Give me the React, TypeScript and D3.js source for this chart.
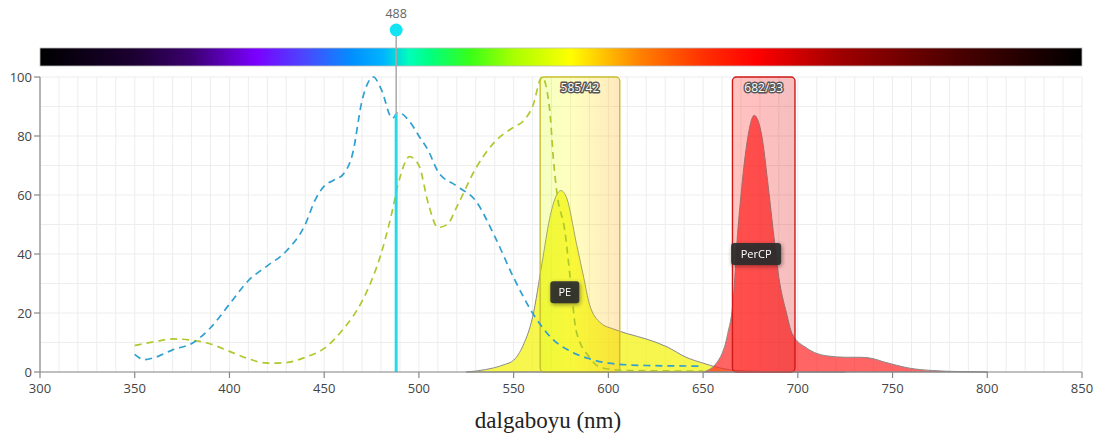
import React from "react";
import * as d3 from "d3";

// spectrum bar colour stops (wavelength nm -> colour)
const spectrumNm = [300, 350, 380, 414, 440, 465, 481, 495, 506, 527, 550, 580, 617, 650, 678, 722, 780, 850];
const spectrumColors = ["#000000", "#1c0032", "#3c0070", "#7a00ff", "#4a48ff", "#0090ff", "#00b4ff", "#00ffb8", "#00ff80", "#38ff18", "#a8ff00", "#ffff00", "#ff8000", "#ff3000", "#ff0000", "#a00000", "#500000", "#000000"];

// PerCP excitation (blue dashed)
const exPerCPnm = [350, 355, 360, 370, 381, 390, 400, 410, 420, 430, 440, 445, 450, 455, 460, 465, 470, 476, 480, 486, 489, 495, 500, 505, 510, 520, 530, 540, 550, 560, 570, 580, 590, 600, 620, 650];
const exPerCPval = [6, 4.2, 4.8, 7.5, 10, 15, 23, 31, 36, 41, 50, 58, 63, 65, 67, 74, 92, 100, 96, 86, 88, 85, 80, 75, 68, 63, 58, 46, 32, 20, 11.5, 7, 4.5, 3, 2.2, 2];

// PE excitation (green dashed)
const exPEnm = [350, 360, 370, 380, 390, 400, 410, 420, 430, 440, 450, 460, 470, 475, 480, 485, 490, 495, 500, 505, 510, 515, 520, 530, 540, 550, 555, 560, 565, 569, 571, 573, 577, 580, 583, 590, 596, 610, 650];
const exPEval = [9, 10.2, 11.2, 10.8, 9.5, 7, 4.5, 3, 3.2, 5, 8, 14.5, 24, 31, 40, 52, 66, 73, 70, 57, 49, 50, 56, 69, 78, 83, 85, 90, 100, 89, 72, 60, 48, 31, 14, 5, 1.5, 0.5, 0.3];

// PE emission (yellow area)
const emPEnm = [525, 535, 545, 550, 555, 560, 565, 569, 572, 575, 578, 583, 587, 590, 596, 603, 610, 621, 631, 641, 650, 660, 670, 690, 725];
const emPEval = [0, 0.8, 2.5, 4, 9, 18.6, 37, 52, 59, 61.5, 59, 44, 32, 23, 16.6, 14.5, 13, 11, 8.5, 5, 3, 1.2, 0.4, 0.1, 0];

// PerCP emission (red area)
const emPerCPnm = [650, 657, 663, 666, 668, 670, 673, 677, 681, 684, 687, 690, 694, 697, 705, 715, 725, 733, 740, 745, 752, 759, 771, 785, 800];
const emPerCPval = [0, 3, 13, 25, 45, 60, 77, 87, 80, 65, 48, 32, 20, 13, 8, 5.5, 5, 5, 4.5, 3.5, 2.3, 1.3, 0.5, 0.15, 0];

// filters
const filterNames = ["585/42", "682/33"];
const filterCenters = [585, 682];
const filterWidths = [42, 33];
const filterStrokes = ["#c9bf2c", "#d01818"];

// fluorochrome tags
const dyeNames = ["PE", "PerCP"];
const dyePeakNm = [577, 678];
const dyeTagVal = [27, 40];

const laserNm = 488;
const xTicks = [300, 350, 400, 450, 500, 550, 600, 650, 700, 750, 800, 850];
const yTicks = [0, 20, 40, 60, 80, 100];

const W = 1095;
const H = 437;
const left = 40;
const right = 1082;
const top = 77;
const bottom = 372;

export default function App() {
  const x = d3.scaleLinear().domain([300, 850]).range([left, right]);
  const y = d3.scaleLinear().domain([0, 100]).range([bottom, top]);

  const line = d3
    .line<[number, number]>()
    .x((d) => x(d[0]))
    .y((d) => y(d[1]))
    .curve(d3.curveMonotoneX);
  const area = d3
    .area<[number, number]>()
    .x((d) => x(d[0]))
    .y0(y(0))
    .y1((d) => y(d[1]))
    .curve(d3.curveMonotoneX);

  const zip = (a: number[], b: number[]) => a.map((v, i) => [v, b[i]] as [number, number]);

  const vGrid = d3.range(300, 851, 10);
  const hGrid = d3.range(0, 101, 10);
  const font = "'Open Sans', 'Noto Sans', sans-serif";

  const laserVal = d3.scaleLinear().domain(exPerCPnm).range(exPerCPval)(laserNm);

  return (
    <svg width={W} height={H} style={{ position: "absolute", left: 0, top: 0 }} fontFamily={font}>
      <defs>
        <linearGradient id="spec" gradientUnits="userSpaceOnUse" x1={left} x2={right} y1={0} y2={0}>
          {spectrumNm.map((n, i) => (
            <stop key={i} offset={(n - 300) / 550} stopColor={spectrumColors[i]} />
          ))}
        </linearGradient>
        <filter id="shadow" x="-50%" y="-50%" width="200%" height="200%">
          <feDropShadow dx="1" dy="1.5" stdDeviation="2" floodColor="#000" floodOpacity="0.45" />
        </filter>
      </defs>

      {/* spectrum bar */}
      <rect x={left} y={48} width={right - left} height={18} fill="url(#spec)" stroke="#bbb" strokeWidth={0.8} />

      {/* grid */}
      {vGrid.map((v) => (
        <line key={"v" + v} x1={x(v)} x2={x(v)} y1={y(100)} y2={y(0)} stroke="#ededed" strokeWidth={1} />
      ))}
      {hGrid.map((v) => (
        <line key={"h" + v} x1={left} x2={right} y1={y(v)} y2={y(v)} stroke="#ededed" strokeWidth={1} />
      ))}

      {/* emission areas */}
      <path d={area(zip(emPEnm, emPEval)) || ""} fill="#f2f20a" fillOpacity={0.72} stroke="#8a8a8a" strokeWidth={1} />
      <path d={area(zip(emPerCPnm, emPerCPval)) || ""} fill="#ff2424" fillOpacity={0.7} stroke="#8a8a8a" strokeWidth={1} />

      {/* filters */}
      {filterNames.map((name, i) => {
        const x0 = x(filterCenters[i] - filterWidths[i] / 2);
        const x1 = x(filterCenters[i] + filterWidths[i] / 2);
        return (
          <g key={name}>
            <rect x={x0} y={y(100)} width={x1 - x0} height={y(0) - y(100)} rx={4} fill="url(#spec)" fillOpacity={0.25} stroke={filterStrokes[i]} strokeWidth={1.4} />
            <text x={(x0 + x1) / 2} y={y(100) + 15} textAnchor="middle" fontSize={12} fill="#fff" stroke="#555" strokeWidth={2.8} paintOrder="stroke" strokeLinejoin="round">
              {name}
            </text>
          </g>
        );
      })}

      {/* excitation curves */}
      <path d={line(zip(exPEnm, exPEval)) || ""} fill="none" stroke="#afc82e" strokeWidth={1.7} strokeDasharray="7,5" />
      <path d={line(zip(exPerCPnm, exPerCPval)) || ""} fill="none" stroke="#2fa0d0" strokeWidth={1.7} strokeDasharray="7,5" />

      {/* laser */}
      <line x1={x(laserNm)} x2={x(laserNm)} y1={30} y2={y(0)} stroke="#aaa" strokeWidth={1.5} />
      <line x1={x(laserNm)} x2={x(laserNm)} y1={y(laserVal)} y2={y(0)} stroke="#22dce8" strokeWidth={3} />
      <circle cx={x(laserNm)} cy={30} r={6.5} fill="#14e4f2" />
      <text x={x(laserNm)} y={18} textAnchor="middle" fontSize={12.5} fill="#666">
        {laserNm}
      </text>

      {/* tags */}
      {dyeNames.map((name, i) => {
        const w = name.length * 7 + 15;
        const cx = x(dyePeakNm[i]);
        const cy = y(dyeTagVal[i]);
        return (
          <g key={name} filter="url(#shadow)">
            <rect x={cx - w / 2} y={cy - 11} width={w} height={22} rx={3} fill="#2e2e2e" fillOpacity={0.92} />
            <text x={cx} y={cy + 4} textAnchor="middle" fontSize={11} fill="#fff">
              {name}
            </text>
          </g>
        );
      })}

      {/* axes */}
      <line x1={left} x2={right} y1={y(0)} y2={y(0)} stroke="#888" strokeWidth={1.2} />
      {xTicks.map((t) => (
        <g key={"xt" + t}>
          <line x1={x(t)} x2={x(t)} y1={y(0)} y2={y(0) + 6} stroke="#888" strokeWidth={1.2} />
          <text x={x(t)} y={y(0) + 21} textAnchor="middle" fontSize={13} fill="#444">
            {t}
          </text>
        </g>
      ))}
      <line x1={left} x2={left} y1={y(100)} y2={y(0)} stroke="#888" strokeWidth={1.2} />
      {yTicks.map((t) => (
        <g key={"yt" + t}>
          <line x1={left - 6} x2={left} y1={y(t)} y2={y(t)} stroke="#888" strokeWidth={1.2} />
          <text x={left - 8} y={y(t) + 4.5} textAnchor="end" fontSize={13} fill="#444">
            {t}
          </text>
        </g>
      ))}

      <text x={548} y={428} textAnchor="middle" fontSize={23} fill="#222" fontFamily="'Liberation Serif', 'Times New Roman', serif">
        dalgaboyu (nm)
      </text>
    </svg>
  );
}
